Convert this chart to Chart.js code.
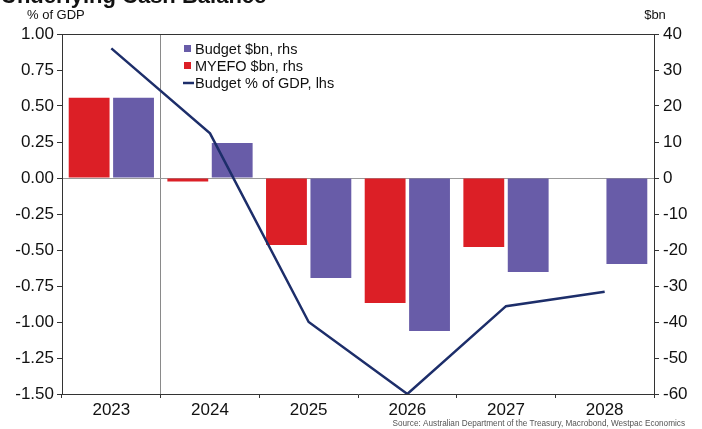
<!DOCTYPE html>
<html>
<head>
<meta charset="utf-8">
<script src="https://cdn.jsdelivr.net/npm/chart.js@4/dist/chart.umd.min.js"></script>
<style>
  html, body { margin: 0; padding: 0; background: #fff; overflow: hidden; }
  #wrap { width: 702px; height: 429px; position: relative; }
  canvas { display: block; }
</style>
</head>
<body>
<div id="wrap"><canvas id="c" width="702" height="429"></canvas></div>
<script>
// Fiscal years
const years = ['2023', '2024', '2025', '2026', '2027', '2028'];
// Underlying cash balance, $bn (right axis)
const myefoBn = [22.3, -1.0, -18.6, -34.7, -19.2, null];
const budgetBn = [22.3, 9.7, -27.8, -42.5, -26.1, -23.9];
// Underlying cash balance, % of GDP (left axis)
const budgetPctGdp = [0.90, 0.31, -1.00, -1.50, -0.89, -0.79];

const titleText = 'Underlying Cash Balance';
const leftUnit = '% of GDP';
const rightUnit = '$bn';
const sourceText = 'Source: Australian Department of the Treasury, Macrobond, Westpac Economics';

const RED = '#dc1f26';
const PURPLE = '#685ca8';
const NAVY = '#1d2e6a';
const AXIS = '#333333';
const FONT = '"Liberation Sans", Arial, sans-serif';

// Heading, unit captions, in-plot legend and source line
const annotations = {
  id: 'annotations',
  afterDraw(chart) {
    const { ctx, chartArea } = chart;
    ctx.save();
    ctx.fillStyle = '#111';
    ctx.textBaseline = 'alphabetic';
    ctx.font = 'bold 22px ' + FONT;
    ctx.textAlign = 'left';
    ctx.fillText(titleText, 1, 3);

    ctx.font = '13px ' + FONT;
    ctx.fillText(leftUnit, 27, 19);
    ctx.textAlign = 'center';
    ctx.fillText(rightUnit, chartArea.right + 1, 19);

    // legend inside the plot
    const items = [
      { label: chart.data.datasets[1].label, color: PURPLE, kind: 'box' },
      { label: chart.data.datasets[0].label, color: RED, kind: 'box' },
      { label: chart.data.datasets[2].label, color: NAVY, kind: 'line' }
    ];
    ctx.font = '14.5px ' + FONT;
    ctx.textAlign = 'left';
    ctx.textBaseline = 'middle';
    const lx = 183, ly0 = 49, dy = 17;
    items.forEach((it, i) => {
      const y = ly0 + i * dy;
      if (it.kind === 'box') {
        ctx.fillStyle = it.color;
        ctx.fillRect(lx + 1, y - 4, 7, 7);
      } else {
        ctx.strokeStyle = it.color;
        ctx.lineWidth = 2.5;
        ctx.beginPath();
        ctx.moveTo(lx, y);
        ctx.lineTo(lx + 11, y);
        ctx.stroke();
      }
      ctx.fillStyle = '#111';
      ctx.fillText(it.label, lx + 12, y + 1);
    });

    ctx.font = '8.2px ' + FONT;
    ctx.fillStyle = '#555';
    ctx.textAlign = 'right';
    ctx.textBaseline = 'alphabetic';
    ctx.fillText(sourceText, 685, 426);
    ctx.restore();
  }
};

new Chart(document.getElementById('c'), {
  data: {
    labels: years,
    datasets: [
      { type: 'bar', label: 'MYEFO $bn, rhs', data: myefoBn, backgroundColor: RED, yAxisID: 'y1', order: 2,
        categoryPercentage: 0.9, barPercentage: 0.92 },
      { type: 'bar', label: 'Budget $bn, rhs', data: budgetBn, backgroundColor: PURPLE, yAxisID: 'y1', order: 2,
        categoryPercentage: 0.9, barPercentage: 0.92 },
      { type: 'line', label: 'Budget % of GDP, lhs', data: budgetPctGdp, borderColor: NAVY, borderWidth: 2.5,
        pointRadius: 0, tension: 0, fill: false, yAxisID: 'y', order: 1 }
    ]
  },
  options: {
    responsive: false,
    animation: false,
    devicePixelRatio: 1,
    layout: { padding: { top: 34, left: 0, right: 0, bottom: 0 } },
    plugins: { legend: { display: false }, title: { display: false }, tooltip: { enabled: false } },
    scales: {
      x: {
        type: 'category',
        offset: true,
        grid: {
          offset: true,
          drawOnChartArea: true,
          color: ctx => (ctx.index === 1 ? '#8a8a8a' : 'rgba(0,0,0,0)'),
          tickColor: AXIS,
          tickLength: 4,
          lineWidth: 1
        },
        border: { color: AXIS, width: 1 },
        ticks: { color: '#111', font: { family: FONT, size: 17 }, padding: 2, maxRotation: 0 },
        afterFit: s => { s.height = 35; }
      },
      y: {
        position: 'left',
        min: -1.5, max: 1.0,
        grid: { drawOnChartArea: false, tickColor: AXIS, tickLength: 5 },
        border: { color: AXIS, width: 1 },
        ticks: { stepSize: 0.25, color: '#111', font: { family: FONT, size: 17 }, padding: 3,
          callback: v => Number(v).toFixed(2) },
        afterFit: s => { s.width = 62; }
      },
      y1: {
        position: 'right',
        min: -60, max: 40,
        grid: {
          drawOnChartArea: true,
          color: ctx => (ctx.tick && ctx.tick.value === 0 ? '#999999' : (ctx.tick && ctx.tick.value === 40 ? AXIS : 'rgba(0,0,0,0)')),
          tickColor: AXIS,
          tickLength: 5
        },
        border: { color: AXIS, width: 1 },
        ticks: { stepSize: 10, color: '#111', font: { family: FONT, size: 17 }, padding: 4 },
        afterFit: s => { s.width = 48; }
      }
    }
  },
  plugins: [annotations]
});
</script>
</body>
</html>
